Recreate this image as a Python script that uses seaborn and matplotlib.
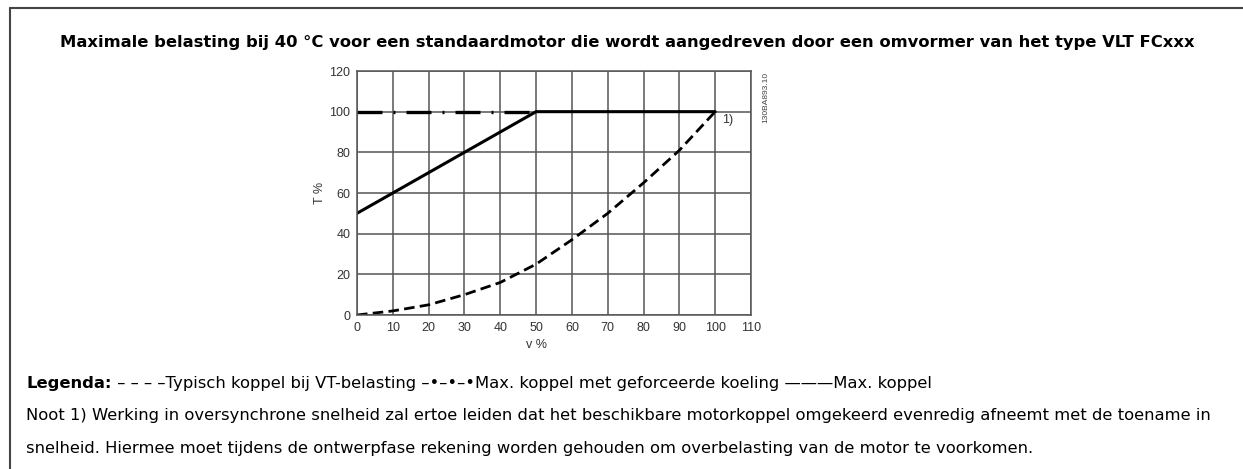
import matplotlib
matplotlib.use("Agg")
import matplotlib.pyplot as plt
import seaborn as sns
import pandas as pd
from matplotlib.lines import Line2D

# Curves: speed v (%) against torque T (%)
vt_speed = [0, 10, 20, 30, 40, 50, 60, 70, 80, 90, 100]
vt_torque = [0, 2, 5, 10, 16, 25, 37, 50, 65, 81, 100]

forced_speed = [0, 50]
forced_torque = [100, 100]

max_speed = [0, 10, 20, 30, 40, 50, 100]
max_torque = [50, 60, 70, 80, 90, 100, 100]

x_ticks = [0, 10, 20, 30, 40, 50, 60, 70, 80, 90, 100, 110]
y_ticks = [0, 20, 40, 60, 80, 100, 120]

title = ("Maximale belasting bij 40 °C voor een standaardmotor die wordt "
         "aangedreven door een omvormer van het type VLT FCxxx")
legend_label = "Legenda:"
legend_text = (" \u2013 \u2013 \u2013 \u2013Typisch koppel bij VT-belasting "
               "\u2013\u2022\u2013\u2022\u2013\u2022Max. koppel met geforceerde koeling "
               "\u2014\u2014\u2014Max. koppel")
note_1 = ("Noot 1) Werking in oversynchrone snelheid zal ertoe leiden dat het beschikbare "
          "motorkoppel omgekeerd evenredig afneemt met de toename in")
note_2 = ("snelheid. Hiermee moet tijdens de ontwerpfase rekening worden gehouden om "
          "overbelasting van de motor te voorkomen.")

sns.set_theme(style="white")
plt.rcParams["font.family"] = ["DejaVu Sans"]

W, H = 1243, 469
fig = plt.figure(figsize=(W / 100, H / 100), dpi=100)


def fx(px):
    return px / W


def fy(py):
    return 1 - py / H


# axes rectangle in pixel units
x0, x1 = 357, 751
y_top, y_bot = 71, 315
ax = fig.add_axes([fx(x0), fy(y_bot), (x1 - x0) / W, (y_bot - y_top) / H])

df_vt = pd.DataFrame({"v": vt_speed, "T": vt_torque})
df_forced = pd.DataFrame({"v": forced_speed, "T": forced_torque})
df_max = pd.DataFrame({"v": max_speed, "T": max_torque})

sns.lineplot(data=df_vt, x="v", y="T", ax=ax, color="black", lw=2.0,
             linestyle=(0, (3.8, 1.9)), sort=False)
sns.lineplot(data=df_forced, x="v", y="T", ax=ax, color="black", lw=2.4,
             linestyle=(0, (7.5, 3.3, 0.6, 3.3)), sort=False)
sns.lineplot(data=df_max, x="v", y="T", ax=ax, color="black", lw=2.2, sort=False)

ax.set_xlim(0, 110)
ax.set_ylim(0, 120)
ax.set_xticks(x_ticks)
ax.set_yticks(y_ticks)
narrow = ["Liberation Sans Narrow", "Liberation Sans"]
tick_font = dict(family=narrow, size=9, color="#333333")
ax.set_xticklabels([str(t) for t in x_ticks], **tick_font)
ax.set_yticklabels([str(t) for t in y_ticks], **tick_font)
ax.grid(True, color="#555555", lw=1.1)
ax.set_axisbelow(True)
for s in ax.spines.values():
    s.set_color("#555555")
    s.set_linewidth(1.1)
ax.tick_params(axis="both", length=3.4, width=1, color="#555555", pad=1.5)
ax.set_xlabel("v %", fontsize=9, color="#333333", family=narrow)
ax.xaxis.set_label_coords(50 / 110, -(345 - y_bot) / (y_bot - y_top))
ax.xaxis.label.set_va("center")
ax.set_ylabel("T %", fontsize=9, color="#333333", family=narrow)
ax.yaxis.set_label_coords(-(x0 - 320) / (x1 - x0), 0.5)
ax.yaxis.label.set_va("center")

ax.text(102, 96, "1)", family=narrow, fontsize=9, color="#333333", ha="left", va="center")
fig.text(fx(766), fy(97), "130BA893.10", rotation=90, family="Liberation Sans",
         fontsize=6, color="#444444", ha="center", va="center")

# page frame: top and left rules
frame_x, frame_y = 10, 8
fig.add_artist(Line2D([fx(frame_x), 1], [fy(frame_y), fy(frame_y)],
                      transform=fig.transFigure, color="#444444", lw=1.5))
fig.add_artist(Line2D([fx(frame_x), fx(frame_x)], [fy(frame_y), 0],
                      transform=fig.transFigure, color="#444444", lw=1.5))

fig.text(fx(627), fy(42), title, ha="center", va="center", fontsize=11.8,
         fontweight="bold", color="black")

text_x = 26
row_y = [383, 415, 448]
t_leg = fig.text(fx(text_x), fy(row_y[0]), legend_label, ha="left", va="center",
                 fontsize=11.8, fontweight="bold", color="black")
fig.canvas.draw()
bb = t_leg.get_window_extent()
fig.text(bb.x1 / W, fy(row_y[0]), legend_text, ha="left", va="center",
         fontsize=11.8, color="black")
fig.text(fx(text_x), fy(row_y[1]), note_1, ha="left", va="center", fontsize=11.8,
         color="black")
fig.text(fx(text_x), fy(row_y[2]), note_2, ha="left", va="center", fontsize=11.8,
         color="black")

fig.savefig("out.png", dpi=100)
